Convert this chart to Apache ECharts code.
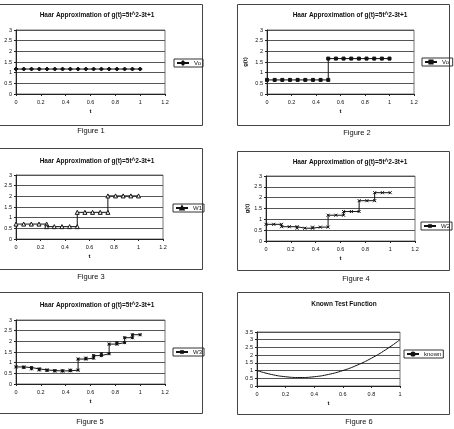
<!DOCTYPE html>
<html>
<head>
<meta charset="utf-8">
<script src="https://cdn.jsdelivr.net/npm/echarts@6/dist/echarts.min.js"></script>
<style>
html, body { margin: 0; padding: 0; background: #fff; }
#main { width: 454px; height: 429px; }
</style>
</head>
<body>
<div id="main"></div>
<script>
// levels of each Haar approximation, one per segment of [0,1]
var v0Levels = [1.17];
var v1Levels = [0.66, 1.66];
var w1Levels = [0.70, 0.58, 1.25, 2.02];
var w2Levels = [0.77, 0.66, 0.59, 0.64, 1.19, 1.36, 1.86, 2.23];
var w3Levels = [0.80, 0.77, 0.71, 0.66, 0.63, 0.61, 0.62, 0.65,
                1.17, 1.21, 1.33, 1.42, 1.87, 1.94, 2.17, 2.31];

// known test function samples
var knownT = [0, 0.1, 0.2, 0.3, 0.4, 0.5, 0.6, 0.7, 0.8, 0.9, 1];
var knownG = [1, 0.75, 0.6, 0.55, 0.6, 0.75, 1, 1.35, 1.8, 2.35, 3];

var titleHaar = 'Haar Approximation of g(t)=5t^2-3t+1';
var titleKnown = 'Known Test Function';
var captions = ['Figure 1', 'Figure 2', 'Figure 3', 'Figure 4', 'Figure 5', 'Figure 6'];
var seriesNames = ['Vo', 'Vo ', 'W1', 'W2', 'W3', 'known'];

var FONT = '"Liberation Sans", Arial, sans-serif';
var INK = '#111';

// sample points every 1/16 inside each segment, segment ends repeated
function stepData(levels) {
    var n = levels.length, out = [];
    var per = 16 / n;
    levels.forEach(function(v, k) {
        for (var i = 0; i <= per; i++) {
            out.push([(k * per + i) / 16, v]);
        }
    });
    return out;
}

var knownData = knownT.map(function(t, i) { return [t, knownG[i]]; });

// panel layout
var grids = [
    { left: 16, top: 30, width: 149, height: 64 },
    { left: 267, top: 30, width: 147, height: 64 },
    { left: 16, top: 175, width: 147, height: 64 },
    { left: 266, top: 176, width: 149, height: 65 },
    { left: 16, top: 320, width: 149, height: 64 },
    { left: 257, top: 332, width: 143, height: 54 }
];
var boxes = [
    [-2, 4, 204, 121], [237, 4, 212, 121],
    [-2, 148, 204, 121], [237, 151, 212, 119],
    [-2, 292, 204, 121], [237, 292, 212, 122]
];
var titlePos = [[97, 16], [350, 16], [97, 162], [350, 163], [97, 306], [344, 305]];
var capPos = [[91, 131], [357, 133], [91, 277], [356, 279], [90, 422], [359, 422]];
var legendPos = [[174, 59], [422, 58], [173, 204], [421, 222], [173, 348], [404, 350]];
var yNameGap = [19, 19, 19, 10, 19, 17];

var symbols = [
    { symbol: 'diamond', size: 4, fill: INK },
    { symbol: 'rect', size: 3, fill: INK },
    { symbol: 'triangle', size: 4, fill: '#fff' },
    { symbol: 'path://M0,0L10,10M10,0L0,10', size: 3, fill: INK },
    { symbol: 'path://M5,0L5,10M0,0L10,10M10,0L0,10M0,5L10,5', size: 3, fill: INK },
    { symbol: 'none', size: 0, fill: INK }
];
var dataSets = [stepData(v0Levels), stepData(v1Levels), stepData(w1Levels),
                stepData(w2Levels), stepData(w3Levels), knownData];

var myChart = echarts.init(document.getElementById('main'));

var option = {
    backgroundColor: '#fff',
    animation: false,
    title: [],
    legend: [],
    grid: [],
    xAxis: [],
    yAxis: [],
    series: [],
    graphic: []
};

for (var i = 0; i < 6; i++) {
    var known = i === 5;
    option.grid.push({
        left: grids[i].left, top: grids[i].top,
        width: grids[i].width, height: grids[i].height,
        outerBoundsMode: 'none', containLabel: false,
        show: true, borderColor: '#777', borderWidth: 1
    });
    option.title.push({
        text: known ? titleKnown : titleHaar,
        left: titlePos[i][0], top: titlePos[i][1] - 4, textAlign: 'center',
        padding: 0,
        textStyle: { fontFamily: FONT, fontSize: 6.5, fontWeight: 'bold', color: INK }
    });
    option.legend.push({
        data: [seriesNames[i]],
        left: legendPos[i][0], top: legendPos[i][1],
        orient: 'vertical',
        borderColor: '#333', borderWidth: 1, borderRadius: 0,
        padding: [1, 2], itemWidth: 12, itemHeight: 4, itemGap: 2,
        textStyle: { fontFamily: FONT, fontSize: 6, color: INK }
    });
    option.xAxis.push({
        type: 'value', gridIndex: i,
        min: 0, max: known ? 1 : 1.2, interval: 0.2,
        name: 't', nameLocation: 'middle', nameGap: 14,
        nameTextStyle: { fontFamily: FONT, fontSize: 6, fontWeight: 'bold', color: INK },
        axisLine: { onZero: false, lineStyle: { color: '#222', width: 1 } },
        axisTick: { show: true, length: 2, lineStyle: { color: '#222' } },
        axisLabel: {
            fontFamily: FONT, fontSize: 5.5, color: INK, margin: 5,
            formatter: function(v) { return String(+v.toFixed(1)); }
        },
        splitLine: { show: false }
    });
    option.yAxis.push({
        type: 'value', gridIndex: i,
        min: 0, max: known ? 3.5 : 3, interval: 0.5,
        name: known ? '' : 'g(t)', nameLocation: 'middle', nameGap: yNameGap[i],
        nameTextStyle: { fontFamily: FONT, fontSize: 6, fontWeight: 'bold', color: INK },
        axisLine: { show: true, lineStyle: { color: '#222', width: 1 } },
        axisTick: { show: true, length: 2, lineStyle: { color: '#222' } },
        axisLabel: {
            fontFamily: FONT, fontSize: 5.5, color: INK, margin: 4,
            formatter: function(v) { return String(+v.toFixed(1)); }
        },
        splitLine: { show: true, lineStyle: { color: '#555', width: 1 } }
    });
    option.series.push({
        name: seriesNames[i],
        type: 'line',
        xAxisIndex: i, yAxisIndex: i,
        data: dataSets[i],
        smooth: known,
        symbol: symbols[i].symbol,
        symbolSize: symbols[i].size,
        showSymbol: !known,
        lineStyle: { color: INK, width: 1 },
        itemStyle: { color: symbols[i].fill, borderColor: INK, borderWidth: 1 }
    });
    option.graphic.push({
        type: 'rect',
        shape: { x: boxes[i][0] + 0.5, y: boxes[i][1] + 0.5, width: boxes[i][2], height: boxes[i][3] },
        style: { fill: 'none', stroke: '#444', lineWidth: 1 },
        silent: true
    });
    option.graphic.push({
        type: 'text',
        x: capPos[i][0], y: capPos[i][1],
        style: {
            text: captions[i], fill: INK,
            font: '7.5px ' + FONT,
            textAlign: 'center', textVerticalAlign: 'middle'
        },
        silent: true
    });
}

myChart.setOption(option);
</script>
</body>
</html>
